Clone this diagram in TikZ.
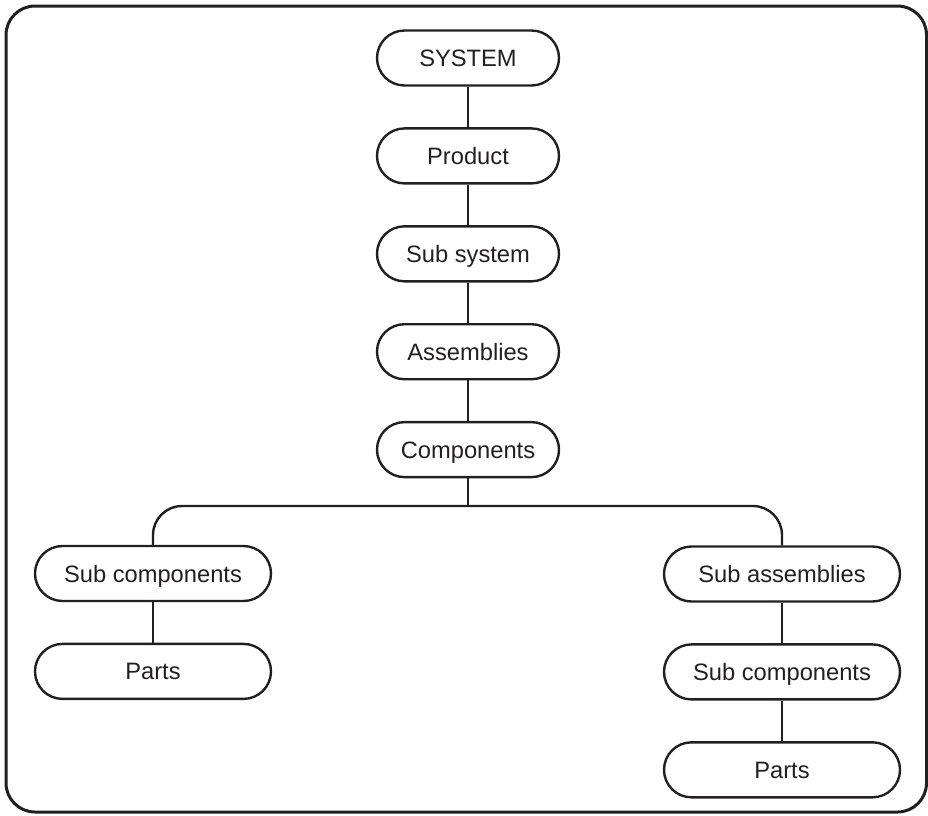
\documentclass[tikz,border=0pt]{standalone}
\usepackage{fontspec}
\setmainfont{Liberation Sans}
\usepackage{tikz}
\usetikzlibrary{positioning}
\definecolor{ink}{RGB}{35,31,32}

\begin{document}
\begin{tikzpicture}[x=1pt, y=-1pt, color=ink, line width=2.4pt,
		level/.style={draw, rounded corners=27.5pt,
			minimum width=182pt, minimum height=55pt, inner sep=0pt,
			text height=17pt, text depth=0pt,
			font=\fontsize{23.7}{28}\selectfont},
		widelevel/.style={level, minimum width=236pt},
		node distance=40.5pt
	]
		
		\useasboundingbox (0,0) rectangle (928,815);
		\draw[line width=3pt, rounded corners=29pt] (6,6) rectangle (926.5,812);
		
		% main chain
		\node[level] (system) at (468,58) {SYSTEM};
		\node[level, below=of system] (product) {Product};
		\node[level, below=of product] (subsys) {Sub system};
		\node[level, below=of subsys] (assem) {Assemblies};
		\node[level, below=of assem] (comp) {Components};
		
		% two branches
		\node[widelevel] (subcompl) at (153,573.5) {Sub components};
		\node[widelevel, below=of subcompl] (partsl) {Parts};
		\node[widelevel] (subassem) at (782,574) {Sub assemblies};
		\node[widelevel, below=of subassem] (subcompr) {Sub components};
		\node[widelevel, below=of subcompr] (partsr) {Parts};
		
		\coordinate (split) at (468,506);
		
		\draw (system) -- (product);
		\draw (product) -- (subsys);
		\draw (subsys) -- (assem);
		\draw (assem) -- (comp);
		\draw (comp) -- (split);
		\draw[rounded corners=29pt] (subcompl.north) |- (split) -| (subassem.north);
		\draw (subcompl) -- (partsl);
		\draw (subassem) -- (subcompr);
		\draw (subcompr) -- (partsr);
	\end{tikzpicture}
\end{document}
